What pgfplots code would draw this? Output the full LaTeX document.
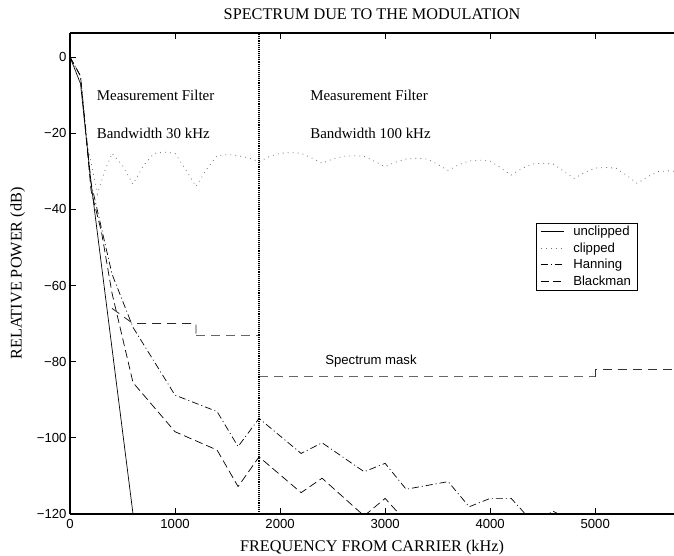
\documentclass[border=0pt]{standalone}
\usepackage{fontspec}
\setmainfont{Liberation Serif}
\setsansfont{Liberation Sans}
\usepackage{pgfplots}
\pgfplotsset{compat=1.18}

\newcommand{\serifsize}{\fontsize{15}{17}\selectfont}
\newcommand{\labelsize}{\fontsize{16.3}{18}\selectfont}
\newcommand{\sanssize}{\sffamily\fontsize{13.2}{15}\selectfont}

\begin{document}
\begin{tikzpicture}
\begin{axis}[
  scale only axis,
  width=604bp, height=481bp,
  xmin=0, xmax=5750,
  ymin=-120, ymax=6.3,
  axis x line=box,
  axis y line=left,
  axis line style={line width=1.3bp, -},
  tick style={line width=0.8bp, black},
  major tick length=6bp,
  tick align=inside,
  xtick={0,1000,2000,3000,4000,5000},
  xticklabels={0,1000,2000,3000,4000,5000},
  ytick={-120,-100,-80,-60,-40,-20,0},
  yticklabels={−120,−100,−80,−60,−40,−20,0},
  ticklabel style={font=\sanssize},
  xticklabel style={yshift=-2bp},
  title={\labelsize SPECTRUM DUE TO THE MODULATION},
  title style={yshift=4bp},
  xlabel={\labelsize FREQUENCY FROM CARRIER (kHz)},
  ylabel={\labelsize RELATIVE POWER (dB)},
  xlabel style={yshift=-4.5bp},
  ylabel style={yshift=5bp},
  clip=true,
  legend cell align=left,
  legend style={
    at={(0.771,0.606)}, anchor=north west,
    font=\sanssize, draw=black, line width=0.6bp,
    inner xsep=4.5bp, inner ysep=1.5bp, row sep=1.4bp,
    /tikz/every odd column/.append style={column sep=7bp}
  },
  legend image code/.code={\draw[#1] (0cm,0cm) -- (23bp,0cm);},
]

% unclipped spectrum
\addplot[black, line width=0.7bp] coordinates {
  (0,0) (100,-7) (200,-33) (600,-120)
};
\addlegendentry{unclipped}

% clipped spectrum
\addplot[black!55, line width=0.8bp, dash pattern=on 0.8bp off 4.2bp] coordinates {
  (0,0) (100,-7) (160,-22) (260,-36) (330,-30) (400,-25.3) (500,-28.5) (600,-33.4)
  (700,-28.5) (800,-25.3) (900,-25) (1000,-25.3) (1100,-29.5) (1200,-34)
  (1300,-29.5) (1400,-25.9) (1500,-25.6) (1600,-25.9) (1700,-26.5) (1800,-27.5)
  (1900,-26.1) (2000,-25.3) (2100,-25.1) (2200,-25.3) (2300,-26.5) (2400,-27.9)
  (2500,-26.8) (2600,-26.1) (2700,-25.9) (2800,-26.1) (2900,-27.4) (3000,-28.8)
  (3100,-27.6) (3200,-26.8) (3300,-26.6) (3400,-26.8) (3500,-28.2) (3600,-29.8)
  (3700,-28.3) (3800,-27.3) (3900,-27.1) (4000,-27.3) (4100,-29.1) (4200,-31)
  (4300,-29.3) (4400,-28.1) (4500,-27.9) (4600,-28.1) (4700,-30) (4800,-31.9)
  (4900,-30.3) (5000,-29.2) (5100,-29) (5200,-29.2) (5300,-31.1) (5400,-33.2)
  (5500,-31.4) (5600,-30.1) (5700,-29.9) (5750,-30)
};
\addlegendentry{clipped}

% Hanning window
\addplot[black, line width=0.7bp, dash pattern=on 7bp off 3bp on 1bp off 3bp] coordinates {
  (0,0) (100,-5) (200,-33) (300,-45) (400,-57) (600,-71) (1000,-88.8)
  (1400,-93.1) (1600,-102.3) (1800,-94.9) (2200,-104.1) (2400,-101.3)
  (2800,-108.9) (3000,-106.7) (3200,-113.5) (3600,-111.5) (3800,-118.1)
  (4000,-115.9) (4200,-115.9) (4400,-122) (4600,-119.3) (4800,-122)
};
\addlegendentry{Hanning}

% Blackman window
\addplot[black, line width=0.7bp, dash pattern=on 8bp off 4bp] coordinates {
  (0,0) (100,-5) (200,-35) (300,-46) (400,-62) (600,-85.5) (1000,-98.4)
  (1400,-103.2) (1600,-112.8) (1800,-105) (2200,-114.4) (2400,-110.6)
  (2800,-120.5) (3000,-115.9) (3200,-122)
};
\addlegendentry{Blackman}

% spectrum mask
\addplot[black!85, line width=0.8bp, dash pattern=on 9bp off 6bp, forget plot] coordinates {
  (400,-66) (600,-70) (1200,-70) (1200,-73)
};
\addplot[black!60, line width=1bp, dash pattern=on 9bp off 6bp, forget plot] coordinates {
  (1200,-73) (1800,-73)
};
\addplot[black!60, line width=1bp, dash pattern=on 9bp off 6bp, forget plot] coordinates {
  (1800,-84) (5000,-84)
};
\addplot[black!80, line width=0.8bp, dash pattern=on 9bp off 6bp, forget plot] coordinates {
  (5000,-84) (5000,-82) (5750,-82)
};

% boundary between the two measurement filter bandwidths
\addplot[black, line width=2.4bp, dash pattern=on 1.1bp off 1bp, forget plot] coordinates {
  (1800,-120) (1800,6.3)
};

\node[anchor=west, font=\serifsize] at (axis cs:222,-10) {Measurement Filter};
\node[anchor=west, font=\serifsize] at (axis cs:222,-20) {Bandwidth 30 kHz};
\node[anchor=west, font=\serifsize] at (axis cs:2254,-10) {Measurement Filter};
\node[anchor=west, font=\serifsize] at (axis cs:2254,-20) {Bandwidth 100 kHz};
\node[anchor=west, font=\sanssize] at (axis cs:2397,-79.8) {Spectrum mask};
\end{axis}
\pgfresetboundingbox
\path[use as bounding box] ([xshift=-70bp,yshift=-42bp]current axis.south west)
  rectangle ([yshift=33bp]current axis.north east);
\end{tikzpicture}
\end{document}
